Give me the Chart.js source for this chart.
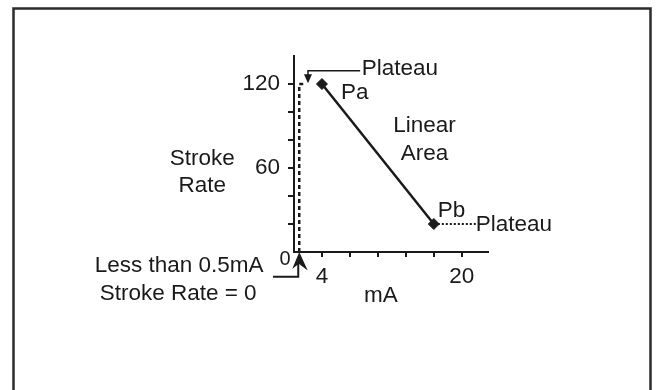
<!DOCTYPE html>
<html>
<head>
<meta charset="utf-8">
<script src="https://cdn.jsdelivr.net/npm/chart.js@4.4.0/dist/chart.umd.min.js"></script>
<style>
    html, body { margin: 0; padding: 0; background: #fff; }
    #wrap { width: 656px; height: 390px; }
</style>
</head>
<body>
<div id="wrap"><canvas id="chart" width="656" height="390"></canvas></div>
<script>
"use strict";

// values: x = input current (mA), y = stroke rate
var linearX = [4, 16.8];
var linearY = [120, 20];
var lowCutX = [1.4, 1.4, 2.0];
var lowCutY = [0, 120, 120];
var highPlateauX = [16.8, 21.6];
var highPlateauY = [20, 20];

var xTicks = [4, 7.2, 10.4, 13.6, 16.8, 20];
var xTickLabels = ["4", "", "", "", "", "20"];
var yTicks = [20, 40, 60, 80, 100, 120];
var yTickLabels = ["", "", "60", "", "", "120"];

var ink = "#1a1a1a";
var font = { family: "'Liberation Sans', Arial, sans-serif", size: 22.5 };

function toPoints(xs, ys) {
    return xs.map(function (x, i) { return { x: x, y: ys[i] }; });
}

// text notes, anchored in data units
var notes = [
    { text: "Plateau", x: 8.54, y: 130.7, align: "left" },
    { text: "Pa", x: 6.17, y: 113.9, align: "left" },
    { text: "Linear", x: 15.74, y: 90.2, align: "center" },
    { text: "Area", x: 15.74, y: 70.0, align: "center" },
    { text: "Pb", x: 17.26, y: 29.6, align: "left" },
    { text: "Plateau", x: 21.6, y: 19.3, align: "left" },
    { text: "Stroke", x: -9.7, y: 66.6, align: "center" },
    { text: "Rate", x: -9.7, y: 47.1, align: "center" },
    { text: "mA", x: 10.74, y: -31.4, align: "center" },
    { text: "Less than 0.5mA", x: -12.34, y: -10.0, align: "center" },
    { text: "Stroke Rate = 0", x: -12.46, y: -29.8, align: "center" },
    { text: "0", x: -0.23, y: -5.7, align: "center", size: 20 }
];

var framePlugin = {
    id: "frame",
    beforeDraw: function (chart) {
        var c = chart.ctx;
        c.save();
        c.strokeStyle = "#2b2b2b";
        c.lineWidth = 2.5;
        c.beginPath();
        c.moveTo(13.5, 400);
        c.lineTo(13.5, 8.5);
        c.lineTo(650.5, 8.5);
        c.lineTo(650.5, 400);
        c.stroke();
        c.restore();
    }
};

var notesPlugin = {
    id: "notes",
    afterDraw: function (chart) {
        var c = chart.ctx;
        var sx = chart.scales.x, sy = chart.scales.y;
        var px = function (v) { return sx.getPixelForValue(v); };
        var py = function (v) { return sy.getPixelForValue(v); };
        c.save();
        c.fillStyle = ink;
        c.textBaseline = "middle";
        notes.forEach(function (n) {
            c.font = (n.size || font.size) + "px " + font.family;
            c.textAlign = n.align;
            c.fillText(n.text, px(n.x), py(n.y));
        });

        c.strokeStyle = ink;
        c.lineWidth = 1.5;
        // callout from the upper "Plateau" label down to the low-current plateau
        c.beginPath();
        c.moveTo(px(8.37), py(129.5));
        c.lineTo(px(2.4), py(129.5));
        c.lineTo(px(2.4), py(125.5));
        c.stroke();
        c.beginPath();
        c.moveTo(px(2.4) - 4, py(127));
        c.lineTo(px(2.4) + 4, py(127));
        c.lineTo(px(2.4), py(120.5));
        c.closePath();
        c.fill();

        // L-shaped arrow pointing up at the cut-off current
        var ax = px(lowCutX[0]);
        c.lineWidth = 2;
        c.beginPath();
        c.moveTo(px(-1.6), py(-17.6));
        c.lineTo(ax - 1, py(-17.6));
        c.lineTo(ax - 1, py(-8));
        c.stroke();
        c.beginPath();
        c.moveTo(ax, py(0));
        c.lineTo(ax + 8.5, py(-13.2));
        c.lineTo(ax - 0.5, py(-8.4));
        c.lineTo(ax - 7, py(-12.2));
        c.closePath();
        c.fill();
        c.restore();
    }
};

var ctx = document.getElementById("chart").getContext("2d");
var myChart = new Chart(ctx, {
    type: "scatter",
    data: {
        datasets: [
            {
                label: "Linear Area",
                data: toPoints(linearX, linearY),
                showLine: true,
                borderColor: ink,
                borderWidth: 2.5,
                pointStyle: "rectRot",
                pointRadius: 5.5,
                pointBackgroundColor: ink,
                pointBorderColor: ink,
                pointBorderWidth: 1
            },
            {
                label: "Low plateau",
                data: toPoints(lowCutX, lowCutY),
                showLine: true,
                borderColor: ink,
                borderWidth: 2.5,
                borderDash: [4, 3],
                pointRadius: 0
            },
            {
                label: "High plateau",
                data: toPoints(highPlateauX, highPlateauY),
                showLine: true,
                borderColor: ink,
                borderWidth: 2,
                borderDash: [2, 2],
                pointRadius: 0
            }
        ]
    },
    options: {
        responsive: false,
        animation: false,
        layout: { padding: { left: 0, right: 168, top: 56, bottom: 0 } },
        plugins: {
            legend: { display: false },
            tooltip: { enabled: false }
        },
        scales: {
            x: {
                type: "linear",
                min: 0.8,
                max: 23,
                afterBuildTicks: function (s) {
                    s.ticks = xTicks.map(function (v) { return { value: v }; });
                },
                afterFit: function (s) { s.height = 138; },
                ticks: {
                    autoSkip: false,
                    maxRotation: 0,
                    padding: 6,
                    color: ink,
                    font: font,
                    callback: function (v) { return xTickLabels[xTicks.indexOf(v)] || ""; }
                },
                grid: { drawOnChartArea: false, drawTicks: true, tickLength: 5, color: ink, lineWidth: 2 },
                border: { display: true, color: ink, width: 2 }
            },
            y: {
                type: "linear",
                min: 0,
                max: 140,
                afterBuildTicks: function (s) {
                    s.ticks = yTicks.map(function (v) { return { value: v }; });
                },
                afterFit: function (s) { s.width = 294; },
                ticks: {
                    autoSkip: false,
                    padding: 8,
                    color: ink,
                    font: font,
                    callback: function (v) { return yTickLabels[yTicks.indexOf(v)] || ""; }
                },
                grid: { drawOnChartArea: false, drawTicks: true, tickLength: 6, color: ink, lineWidth: 2 },
                border: { display: true, color: ink, width: 2 }
            }
        }
    },
    plugins: [framePlugin, notesPlugin]
});
</script>
</body>
</html>
